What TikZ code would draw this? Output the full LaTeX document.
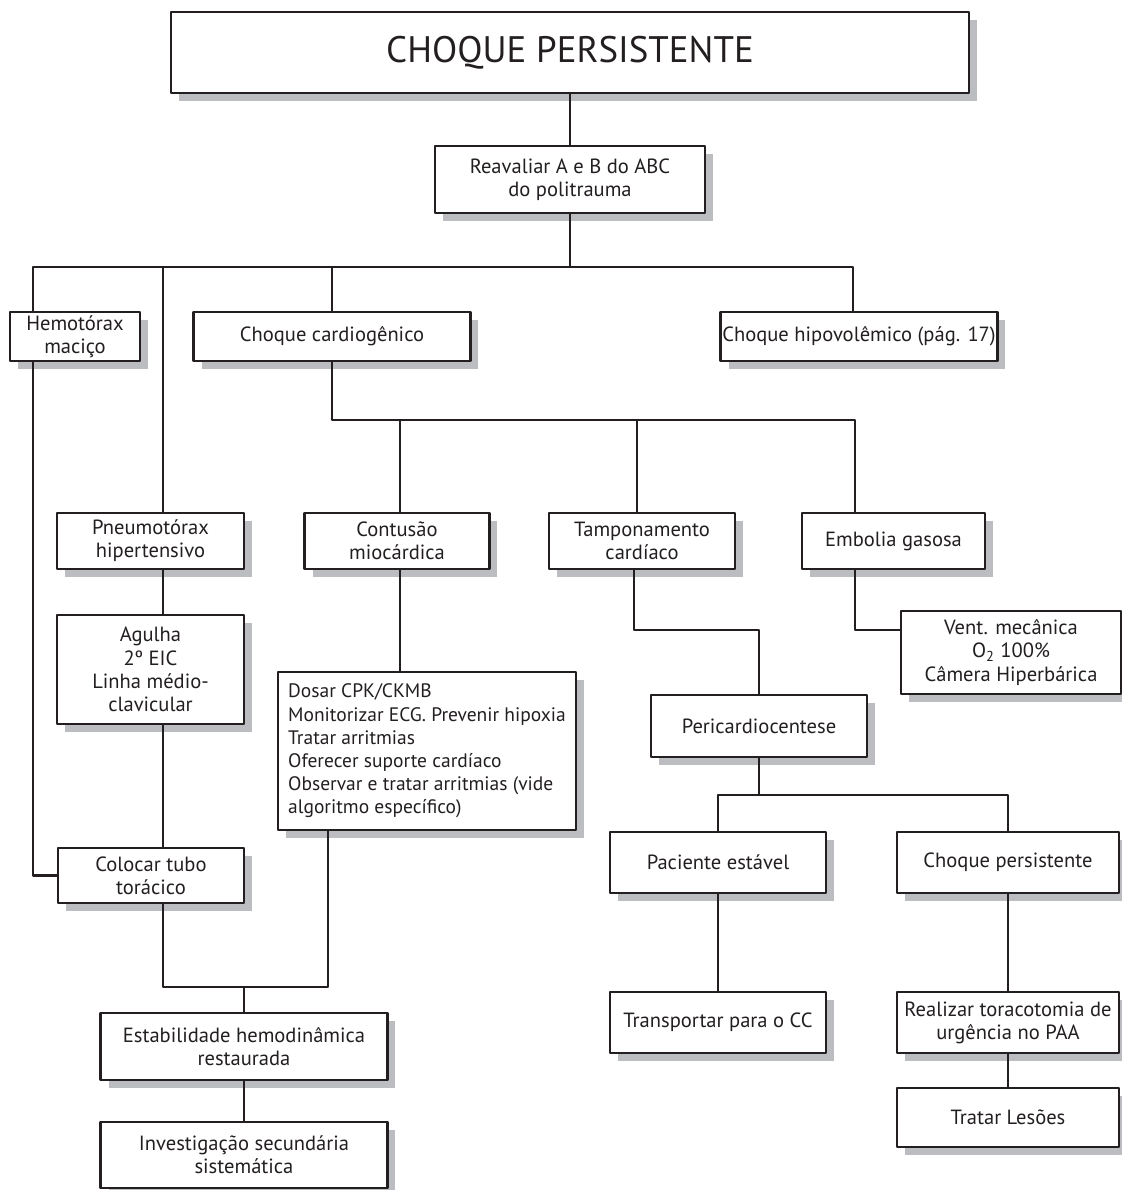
\documentclass[tikz,border=0pt]{standalone}
\usepackage{fontspec}
\setmainfont{PT Sans}
\usepackage{tikz}
\usetikzlibrary{shadows}
\definecolor{traco}{HTML}{231F20}
\definecolor{sombra}{HTML}{BCBDC0}

\begin{document}
\begin{tikzpicture}[line cap=round,line join=round,x=0.02cm,y=-0.02cm,
  caixa/.style={draw=traco,line width=1.4pt,fill=white,text=traco,align=center,inner sep=1pt,
    font=\fontsize{11.7}{13.2}\selectfont,
    drop shadow={shadow xshift=0.16cm,shadow yshift=-0.16cm,fill=sombra,opacity=1}},
  liga/.style={draw=traco,line width=1.4pt}]
\clip(0,0) rectangle (1122,1190);
\node[caixa,minimum width=15.96cm,minimum height=1.62cm,font=\fontsize{21}{24}\selectfont] (titulo) at (570,52.5) {CHOQUE PERSISTENTE};
\node[caixa,minimum width=5.4cm,minimum height=1.34cm] (reav) at (570,179.5) {Reavaliar A e B do ABC\\do politrauma};
\node[caixa,minimum width=2.6cm,minimum height=0.98cm] (hemo) at (75,336.5) {Hemotórax\\maciço};
\node[caixa,minimum width=5.54cm,minimum height=0.98cm] (cardio) at (332,336.5) {Choque cardiogênico};
\node[caixa,minimum width=5.52cm,minimum height=0.98cm] (hipo) at (859,336.5) {Choque hipovolêmico (pág. 17)};
\node[caixa,minimum width=3.74cm,minimum height=1.12cm] (pneu) at (150.5,541) {Pneumotórax\\hipertensivo};
\node[caixa,minimum width=3.7cm,minimum height=1.12cm] (contu) at (397,541) {Contusão\\miocárdica};
\node[caixa,minimum width=3.72cm,minimum height=1.12cm] (tamp) at (642,541) {Tamponamento\\cardíaco};
\node[caixa,minimum width=3.66cm,minimum height=1.12cm] (embo) at (893.5,541) {Embolia gasosa};
\node[caixa,minimum width=3.74cm,minimum height=2.18cm] (agu) at (150.5,669.5) {Agulha\\2º EIC\\Linha médio-\\clavicular};
\node[caixa,minimum width=5.96cm,minimum height=3.16cm,align=left,inner xsep=5pt,font=\fontsize{11.1}{13.2}\selectfont] (dosar) at (427,751) {Dosar CPK/CKMB\\Monitorizar ECG. Prevenir hipoxia\\Tratar arritmias\\Oferecer suporte cardíaco\\Observar e tratar arritmias (vide\\algoritmo específico)};
\node[caixa,minimum width=4.4cm,minimum height=1.66cm] (vent) at (1011,652.5) {Vent. mecânica\\O\textsubscript{2} 100\%\\Câmera Hiperbárica};
\node[caixa,minimum width=4.32cm,minimum height=1.24cm] (peri) at (759,726) {Pericardiocentese};
\node[caixa,minimum width=4.32cm,minimum height=1.22cm] (pac) at (718,862.5) {Paciente estável};
\node[caixa,minimum width=4.44cm,minimum height=1.22cm] (choq) at (1008,862.5) {Choque persistente};
\node[caixa,minimum width=4.32cm,minimum height=1.22cm] (transp) at (718,1022.5) {Transportar para o CC};
\node[caixa,minimum width=4.44cm,minimum height=1.22cm] (realiz) at (1008,1022.5) {Realizar toracotomia de\\urgência no PAA};
\node[caixa,minimum width=4.44cm,minimum height=1.18cm] (tratar) at (1008,1117.5) {Tratar Lesões};
\node[caixa,minimum width=3.72cm,minimum height=1.1cm] (coloc) at (151,875.5) {Colocar tubo\\torácico};
\node[caixa,minimum width=5.74cm,minimum height=1.34cm] (estab) at (244,1046.5) {Estabilidade hemodinâmica\\restaurada};
\node[caixa,minimum width=5.74cm,minimum height=1.32cm] (invest) at (244,1155) {Investigação secundária\\sistemática};
\coordinate (bA) at (33,267);
\coordinate (bB) at (163,267);
\coordinate (bD) at (853,267);
\coordinate (bC) at (400,420);
\coordinate (bT) at (637,420);
\coordinate (bH) at (855,420);
\coordinate (cT) at (634,630);
\coordinate (cE) at (855,630);
\coordinate (bE) at (163,987);
\coordinate (bF) at (328,987);
\coordinate (bJ) at (244,987);
\coordinate (bL) at (718,795);
\coordinate (bM) at (1008,795);
\draw[liga] (titulo) -- (reav);
\draw[liga] (reav) -- (reav |- bA);
\draw[liga] (bA |- hemo.north) -- (bA) -- (bD) -- (bD |- hipo.north);
\draw[liga] (bB) -- (bB |- pneu.north);
\draw[liga] (cardio) -- (cardio |- bA);
\draw[liga] (cardio) -- (cardio |- bC) -- (bH) -- (bH |- embo.north);
\draw[liga] (bC) -- (bC |- contu.north);
\draw[liga] (bT) -- (bT |- tamp.north);
\draw[liga] (bA |- hemo.south) |- (coloc.west);
\draw[liga] (bB |- pneu.south) -- (bB |- agu.north);
\draw[liga] (bB |- agu.south) -- (bB |- coloc.north);
\draw[liga] (bB |- coloc.south) -- (bE) -- (bF) -- (bF |- dosar.south);
\draw[liga] (bJ) -- (bJ |- estab.north);
\draw[liga] (estab) -- (invest);
\draw[liga] (bC |- contu.south) -- (bC |- dosar.north);
\draw[liga] (cT |- tamp.south) -- (cT) -| (peri.north);
\draw[liga] (bH |- embo.south) -- (cE) -- (cE -| vent.west);
\draw[liga] (peri) -- (peri |- bL);
\draw[liga] (pac) |- (bM) -- (choq);
\draw[liga] (pac) -- (transp);
\draw[liga] (choq) -- (realiz);
\draw[liga] (realiz) -- (tratar);
\end{tikzpicture}
\end{document}
